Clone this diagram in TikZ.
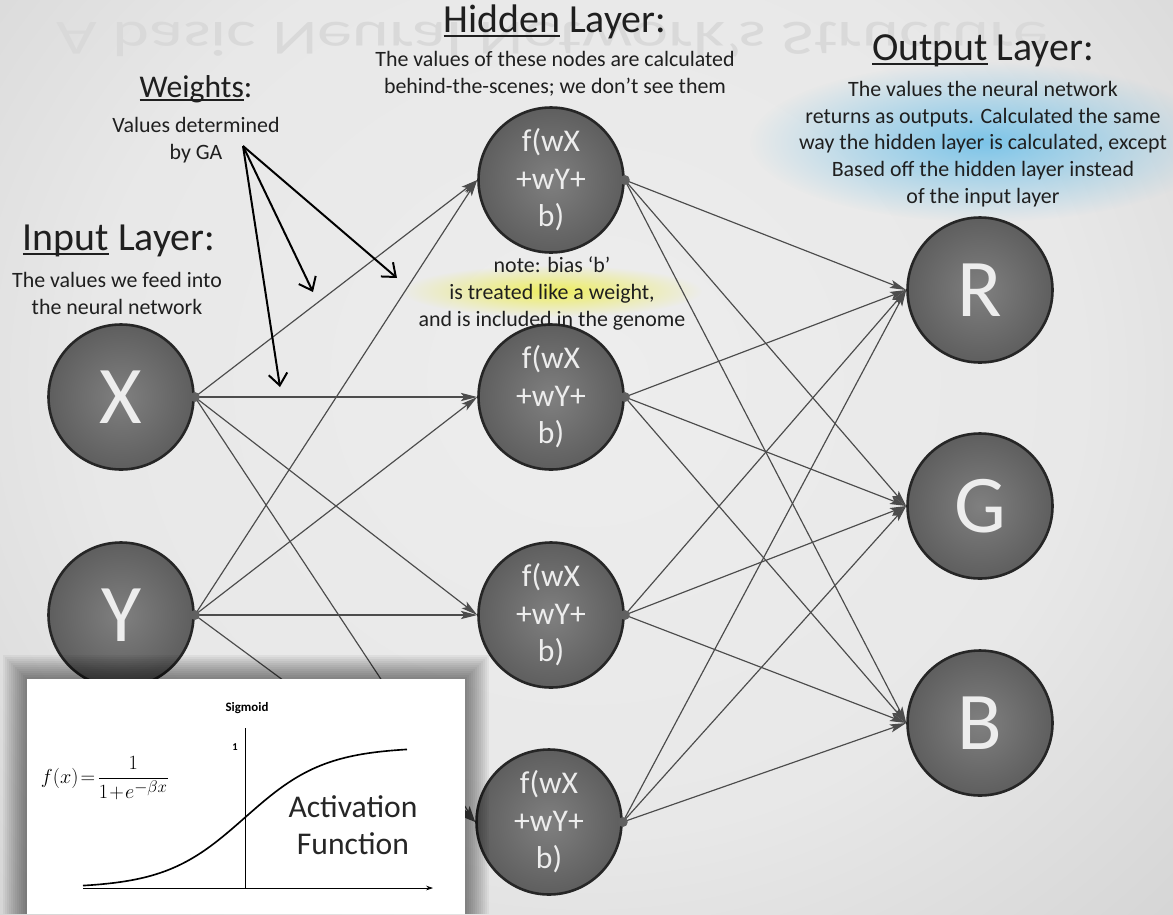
\documentclass[tikz,border=0pt]{standalone}
\usepackage{fontspec}
\setmainfont{Carlito}
\usepackage{amsmath}
\newcommand{\ulword}[1]{\setbox0\hbox{#1}\rlap{\rule[-0.13em]{\wd0}{1.8pt}}\box0{}}
\usetikzlibrary{arrows.meta,calc,fadings,backgrounds,positioning}
\tikzset{>=latex}
\definecolor{glowblue}{RGB}{105,190,232}
\definecolor{glowyellow}{RGB}{238,238,70}
\pgfdeclareradialshading{vignette}{\pgfpoint{0bp}{0bp}}{color(0bp)=(white!93!black); color(18bp)=(white!91!black); color(50bp)=(white!72!black); color(72bp)=(white!60!black)}
\tikzfading[name=glowfade, inner color=transparent!15, outer color=transparent!100]
\tikzset{
  neuron/.style={circle, minimum size=4.35cm, inner sep=0pt, draw=black!85, line width=2.2pt,
    shading=radial, inner color=black!50, outer color=black!63, text=white!93!black},
  bigletter/.style={font=\fontsize{70}{70}\selectfont},
  hidtext/.style={font=\fontsize{27}{32}\selectfont, align=center},
  layertitle/.style={font=\fontsize{34}{40}\selectfont, text=black!88, anchor=base},
  layernote/.style={font=\fontsize{18.7}{22.8}\selectfont, align=center, text=black!88, anchor=north},
  wire/.style={draw=black!70, line width=1pt, -{Stealth[length=14pt,width=7pt,inset=3pt]}},
  pointer/.style={draw=black, line width=1.7pt, -{Straight Barb[length=10pt,width=16pt]}},
}
\begin{document}
\begin{tikzpicture}[x=0.03cm, y=-0.03cm]
	\useasboundingbox (0,0) rectangle (1173,914);
	\clip (0,0) rectangle (1173,914);
	\shade[shading=vignette] (-100,-250) rectangle (1273,1010);
	\node[text=black!15, font=\fontsize{60}{60}\selectfont] (ghost) at (552,40) {\scalebox{1}[-0.7]{A basic Neural Network's Structure}};
	\fill[glowblue, path fading=glowfade] (985,142) ellipse (235 and 80);
	\fill[glowyellow, path fading=glowfade] (552,291) ellipse (150 and 26);

	\node[neuron, bigletter] (X) at (121,397) {X};
	\node[neuron, bigletter] (Y) at (121,615) {Y};
	\node[neuron, hidtext] (H1) at (551,180) {f(wX\\+wY+\\b)};
	\node[neuron, hidtext] (H2) at (551,397) {f(wX\\+wY+\\b)};
	\node[neuron, hidtext] (H3) at (551,615) {f(wX\\+wY+\\b)};
	\node[neuron, hidtext] (H4) at (549,822) {f(wX\\+wY+\\b)};
	\node[neuron, bigletter] (R) at (980,290) {R};
	\node[neuron, bigletter] (G) at (980,506) {G};
	\node[neuron, bigletter] (B) at (980,723) {B};

	\begin{scope}[on background layer]
		\foreach \n in {X,Y,H1,H2,H3,H4,R,G,B}
			\foreach \r in {74,77,...,95}
				\fill[black, opacity=0.045] ($(\n)+(0,7)$) circle (\r);
	\end{scope}

	\foreach \i in {X,Y}
		\foreach \h in {H1,H2,H3,H4}
			\draw[wire] (\i.east) -- (\h.west);
	\foreach \h in {H1,H2,H3,H4}
		\foreach \o in {R,G,B}
			\draw[wire] (\h.east) -- (\o.west);
	\foreach \n in {X,Y,H1,H2,H3,H4}
		\fill[black!62] (\n.east) circle (5);

	\node[layertitle] (hidtitle) at (555,32) {\ulword{Hidden} Layer:};
	\node[layernote] (hidnote) at (555,47) {The values of these nodes are calculated\\behind-the-scenes; we don’t see them};
	\node[layertitle, font=\fontsize{27}{30}\selectfont] (weights) at (196,97) {\ulword{Weights}:};
	\node[layernote] (weightnote) at (196,113) {Values determined\\by GA};
	\node[layertitle] (intitle) at (119,250) {\ulword{Input} Layer:};
	\node[layernote] (innote) at (117,268) {The values we feed into\\the neural network};
	\node[layertitle] (outtitle) at (983,60) {\ulword{Output} Layer:};
	\node[layernote] (outnote) at (983,77) {The values the neural network\\returns as outputs. Calculated the same\\way the hidden layer is calculated, except\\Based off the hidden layer instead\\of the input layer};
	\node[layernote] (biasnote) at (552,253) {note: bias ‘b’\\is treated like a weight,\\and is included in the genome};

	\coordinate (ga) at (243,146);
	\coordinate (w1) at (313,292);
	\coordinate (w2) at (397,278);
	\coordinate (w3) at (280,387);
	\foreach \w in {w1,w2,w3}
		\draw[pointer] (ga) -- (\w);

	% activation function inset
	\foreach \s in {1,...,12}
		\fill[black, opacity=0.045] (27-2*\s,679-2*\s) rectangle (465+2*\s,914);
	\fill[white] (27,679) rectangle (465,914);
	\node[font=\bfseries\fontsize{11}{12}\selectfont] (sigtitle) at (247,708) {Sigmoid};
	\coordinate (orig) at (245,888);
	\draw[line width=0.6pt] (245,728) -- (orig);
	\draw[line width=0.6pt, -{Stealth[length=6pt,width=4pt]}] (83,888) -- (433,888);
	\node[font=\bfseries\fontsize{9}{9}\selectfont] (one) at (235,747) {1};
	\draw[line width=1.4pt, domain=83:407, samples=80] plot (\x, {888-141/(1+exp(-0.025*(\x-245)))});
	\node[font=\fontsize{19}{22}\selectfont] (formula) at (105,778) {\medmuskip=1mu\thickmuskip=2mu$f(x)=\dfrac{1}{1+e^{-\beta x}}$};
	\node[font=\fontsize{27}{31.6}\selectfont, align=center, text=black!85] (actfun) at (353,825) {Activation\\Function};
\end{tikzpicture}
\end{document}
